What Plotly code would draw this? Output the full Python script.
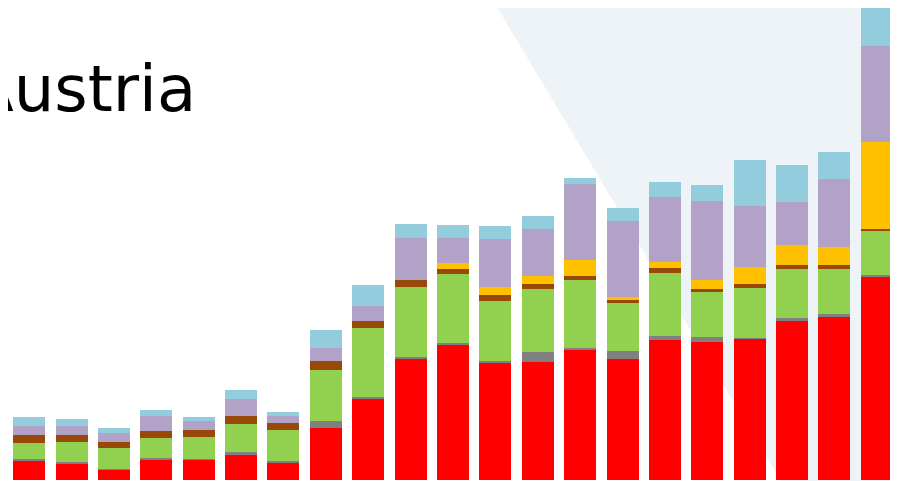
import plotly.graph_objects as go

years = [str(y) for y in range(2000, 2021)]

red = [19, 16.7, 10, 20.7, 20, 25.3, 16.7, 52.3, 81.7, 120.7, 134.7, 116.7, 118, 130.7, 120.7, 139.7, 138.3, 141, 159, 163, 202.7]
gray = [1.7, 1.3, 1.3, 1.3, 1, 3, 2.7, 6.7, 1.7, 2.3, 2.3, 2.3, 10, 1.6, 8.6, 4, 5, 1.3, 2.7, 2.7, 2.3]
green = [16, 20.3, 20.3, 20, 22.3, 28, 30.3, 51, 69, 70.3, 69.3, 60.3, 62.7, 67.4, 47.4, 63.6, 45, 50, 49.6, 45.6, 43.7]
brown = [8, 6.3, 6.7, 6.7, 6.3, 7.7, 7.7, 9, 6.7, 6.7, 5, 5.3, 5.3, 4.3, 3.3, 4.3, 2.7, 3.7, 4, 4, 2.6]
yellow = [0, 0, 0, 0, 0, 0, 0, 0, 0, 0, 5.3, 8.7, 7.7, 16.3, 3.3, 6.3, 9, 17, 19.4, 18, 87]
purple = [9, 9, 9, 15.3, 9.3, 16.7, 7, 13.3, 15.3, 42.3, 25.7, 47.7, 47.3, 75.6, 75.7, 65.3, 79.3, 61.3, 43.6, 67.7, 96]
blue = [9, 7.7, 5, 6.3, 3.7, 9, 3.3, 17.7, 20.3, 14, 12.7, 12.7, 13, 6.4, 12.7, 15, 15.4, 46, 37, 27, 40.4]

series = [
    (red, "#FF0000"),
    (gray, "#808080"),
    (green, "#92D050"),
    (brown, "#984807"),
    (yellow, "#FFC000"),
    (purple, "#B3A2C7"),
    (blue, "#93CDDD"),
]

fig = go.Figure()
for vals, col in series:
    fig.add_trace(go.Bar(x=years, y=vals, marker=dict(color=col, line=dict(width=0)),
                         showlegend=False, hoverinfo="y"))

# light background wedge, top right
fig.add_shape(type="path", xref="paper", yref="paper",
              path="M 0.5437,1.02 L 1.01,1.02 L 1.01,-0.01 L 0.871,-0.01 Z",
              fillcolor="#EEF3F7", line=dict(width=0), layer="below")

fig.add_annotation(text="Austria", xref="paper", yref="paper", x=0.2134, y=0.829,
                   xanchor="right", yanchor="middle", showarrow=False,
                   font=dict(family="DejaVu Sans", size=64, color="#000000"))

fig.update_layout(
    width=890, height=473,
    barmode="stack", bargap=0.245,
    margin=dict(l=0, r=0, t=0, b=1),
    paper_bgcolor="white", plot_bgcolor="rgba(0,0,0,0)",
    xaxis=dict(visible=False, range=[-0.5, 20.5]),
    yaxis=dict(visible=False, range=[0, 472]),
)

fig.write_html("out.html")
